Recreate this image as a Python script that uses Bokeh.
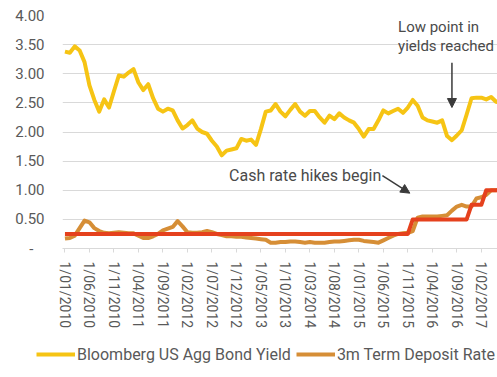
import pandas as pd
from bokeh.plotting import figure
from bokeh.layouts import column, row
from bokeh.models import FixedTicker, Legend, LegendItem, Label, Arrow, NormalHead, ColumnDataSource
from bokeh.embed import file_html
from bokeh.resources import INLINE

# ---------------- data ----------------
dates = pd.date_range("2010-01-01", periods=90, freq="MS")
date_labels = [f"{d.day}/{d.month:02d}/{d.year}" for d in dates]

bond_yield = [3.38, 3.36, 3.47, 3.40, 3.20, 2.80, 2.55, 2.35, 2.56, 2.42,
              2.70, 2.97, 2.95, 3.02, 3.08, 2.85, 2.72, 2.82, 2.58, 2.40,
              2.35, 2.40, 2.37, 2.20, 2.06, 2.12, 2.20, 2.06, 2.00, 1.97,
              1.85, 1.75, 1.60, 1.68, 1.70, 1.72, 1.88, 1.85, 1.87, 1.78,
              2.05, 2.35, 2.37, 2.48, 2.35, 2.27, 2.38, 2.48, 2.35, 2.28,
              2.36, 2.36, 2.25, 2.16, 2.28, 2.22, 2.32, 2.25, 2.20, 2.16,
              2.05, 1.92, 2.05, 2.05, 2.20, 2.37, 2.32, 2.36, 2.40, 2.33,
              2.42, 2.55, 2.45, 2.25, 2.20, 2.18, 2.16, 2.20, 1.93, 1.86,
              1.94, 2.03, 2.30, 2.58, 2.59, 2.59, 2.56, 2.60, 2.52, 2.50]

term_deposit = [0.17, 0.18, 0.22, 0.35, 0.48, 0.45, 0.35, 0.30, 0.27, 0.26,
                0.27, 0.28, 0.27, 0.26, 0.26, 0.22, 0.18, 0.18, 0.21, 0.25,
                0.31, 0.34, 0.37, 0.47, 0.38, 0.28, 0.27, 0.27, 0.28, 0.30,
                0.28, 0.25, 0.23, 0.21, 0.21, 0.20, 0.20, 0.19, 0.18, 0.17,
                0.16, 0.15, 0.10, 0.10, 0.11, 0.11, 0.12, 0.12, 0.11, 0.10,
                0.11, 0.10, 0.10, 0.10, 0.11, 0.12, 0.12, 0.13, 0.14, 0.15,
                0.15, 0.13, 0.12, 0.11, 0.10, 0.14, 0.18, 0.22, 0.25, 0.26,
                0.27, 0.30, 0.53, 0.55, 0.55, 0.55, 0.55, 0.56, 0.57, 0.65,
                0.72, 0.75, 0.72, 0.72, 0.86, 0.88, 0.92, 1.00, 1.00, 1.02]

cash_rate = [0.25] * 71 + [0.50] * 12 + [0.75] * 3 + [1.00] * 4

y_ticks = [0, 0.5, 1.0, 1.5, 2.0, 2.5, 3.0, 3.5, 4.0]
y_tick_labels = ["-\u00a0\u00a0\u00a0", "0.50", "1.00", "1.50", "2.00", "2.50", "3.00", "3.50", "4.00"]
x_tick_step = 5

series_names = ["Bloomberg US Agg Bond Yield", "3m Term Deposit Rate"]

# ---------------- figure ----------------
idx = list(range(len(dates)))
src = ColumnDataSource(dict(x=idx, bond=bond_yield, td=term_deposit, cash=cash_rate))

FONT = "Roboto"
GREY = "#595959"
YELLOW = "#F6C414"
ORANGE = "#D68E36"
RED = "#E5411D"

p = figure(width=497, height=340, output_backend="svg", toolbar_location=None,
           x_range=(-0.5, 88.3), y_range=(0, 4.0),
           min_border_left=62, min_border_right=0, min_border_top=15, min_border_bottom=92)
p.outline_line_color = None
p.background_fill_color = "white"
p.border_fill_color = "white"

r1 = p.line("x", "bond", source=src, line_color=YELLOW, line_width=4, line_join="round")
r2 = p.line("x", "td", source=src, line_color=ORANGE, line_width=4, line_join="round")
r3 = p.line("x", "cash", source=src, line_color=RED, line_width=4, line_join="round")

# grid
p.xgrid.grid_line_color = None
p.ygrid.grid_line_color = "#D9D9D9"
p.ygrid.grid_line_width = 1
p.ygrid.ticker = FixedTicker(ticks=y_ticks)

# y axis
p.yaxis.ticker = FixedTicker(ticks=y_ticks)
p.yaxis.major_label_overrides = {t: l for t, l in zip(y_ticks, y_tick_labels)}
p.yaxis.axis_line_color = None
p.yaxis.major_tick_line_color = None
p.yaxis.minor_tick_line_color = None
p.yaxis.major_tick_out = 0
p.yaxis.major_tick_in = 0
p.yaxis.major_label_standoff = 18
p.yaxis.major_label_text_font = FONT
p.yaxis.major_label_text_font_size = "15px"
p.yaxis.major_label_text_color = GREY

# x axis
xt = idx[::x_tick_step]
p.xaxis.ticker = FixedTicker(ticks=xt)
p.xaxis.major_label_overrides = {i: date_labels[i] for i in xt}
p.xaxis.major_label_orientation = "vertical"
p.xaxis.axis_line_color = "#D9D9D9"
p.xaxis.major_tick_line_color = "#D9D9D9"
p.xaxis.minor_tick_line_color = None
p.xaxis.major_tick_out = 4
p.xaxis.major_tick_in = 0
p.xaxis.major_label_standoff = 9
p.xaxis.major_label_text_font = FONT
p.xaxis.major_label_text_font_size = "14px"
p.xaxis.major_label_text_color = GREY

# annotations
ANN = "#4A4A4A"
p.add_layout(Label(x=33.5, y=1.25, text="Cash rate hikes begin", text_font=FONT,
                   text_font_size="16px", text_color=ANN, text_baseline="middle"))
p.add_layout(Label(x=68.0, y=3.81, text="Low point in", text_font=FONT,
                   text_font_size="15px", text_color=ANN, text_baseline="middle"))
p.add_layout(Label(x=68.0, y=3.48, text="yields reached", text_font=FONT,
                   text_font_size="15px", text_color=ANN, text_baseline="middle"))
p.add_layout(Arrow(x_start=64.8, y_start=1.25, x_end=70.4, y_end=0.95,
                   line_color="#3A3A3A", line_width=1.5,
                   end=NormalHead(size=9, fill_color="#3A3A3A", line_color="#3A3A3A")))
p.add_layout(Arrow(x_start=79.0, y_start=3.19, x_end=79.0, y_end=2.42,
                   line_color="#3A3A3A", line_width=1.5,
                   end=NormalHead(size=9, fill_color="#3A3A3A", line_color="#3A3A3A")))

# ---------------- legend strip ----------------
lg = figure(width=497, height=37, output_backend="svg", toolbar_location=None,
            x_range=(0, 1), y_range=(0, 1), min_border=0,
            min_border_left=0, min_border_right=0, min_border_top=0, min_border_bottom=0,
            x_axis_location=None, y_axis_location=None)
lg.grid.visible = False
lg.outline_line_color = None
lr1 = lg.line(x=[-5, -4], y=[-5, -5], line_color=YELLOW, line_width=4)
lr2 = lg.line(x=[-5, -4], y=[-5, -5], line_color=ORANGE, line_width=4)
legend = Legend(items=[LegendItem(label=series_names[0], renderers=[lr1]),
                       LegendItem(label=series_names[1], renderers=[lr2])],
                orientation="horizontal", location=(36, 13),
                padding=0, margin=0, spacing=5, label_standoff=2,
                glyph_width=39, glyph_height=20, label_height=20,
                border_line_color=None, background_fill_alpha=0,
                label_text_font=FONT, label_text_font_size="16px", label_text_color=GREY)
lg.add_layout(legend, "center")

layout = column(p, row(lg), spacing=0)
open("out.html", "w").write(file_html(layout, INLINE))
